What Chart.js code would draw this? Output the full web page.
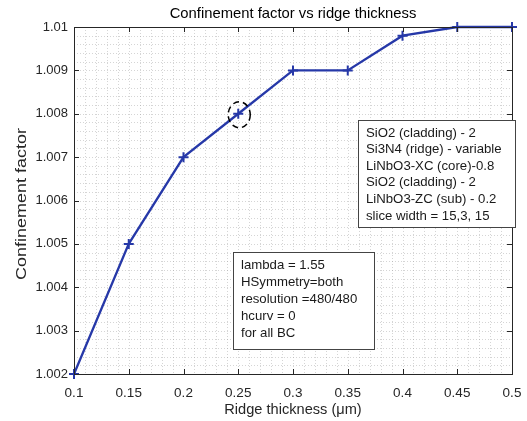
<!DOCTYPE html>
<html>
<head>
<meta charset="utf-8">
<script src="https://cdn.jsdelivr.net/npm/chart.js@4"></script>
<style>
  html, body { margin: 0; padding: 0; background: #fff; }
  #wrap { width: 527px; height: 421px; }
</style>
</head>
<body>
<div id="wrap"><canvas id="cf_chart" width="527" height="421"></canvas></div>
<script>
// Ridge thickness sweep (um) and the confinement factor at each step
var thickness = [0.1, 0.15, 0.2, 0.25, 0.3, 0.35, 0.4, 0.45, 0.5]
var confinement = [1.002, 1.005, 1.007, 1.008, 1.009, 1.009, 1.0098, 1.01, 1.01]

var xTicks = [0.1, 0.15, 0.2, 0.25, 0.3, 0.35, 0.4, 0.45, 0.5]
var yTicks = [1.002, 1.003, 1.004, 1.005, 1.006, 1.007, 1.008, 1.009, 1.01]

// Annotation boxes
var layerNotes = [
    'SiO2 (cladding) - 2',
    'Si3N4 (ridge) - variable',
    'LiNbO3-XC (core)-0.8',
    'SiO2 (cladding) - 2',
    'LiNbO3-ZC (sub) - 0.2',
    'slice width = 15,3, 15'
]
var simNotes = [
    'lambda = 1.55',
    'HSymmetry=both',
    'resolution =480/480',
    'hcurv = 0',
    'for all BC'
]

var highlighted = 0.25   // point circled on the curve

var FONT = '"Liberation Sans", Arial, sans-serif'
var AXIS_COLOR = '#262626'
var LINE_COLOR = 'rgb(38,56,168)'

var matlabAxes = {
    id: 'matlabAxes',

    // dotted minor grid
    beforeDatasetsDraw: function (chart) {
        var ctx = chart.ctx
        var a = chart.chartArea
        var xs = chart.scales.x
        var ys = chart.scales.y
        ctx.save()
        ctx.strokeStyle = 'rgba(150,150,150,0.5)'
        ctx.lineWidth = 0.8
        ctx.setLineDash([1, 2])
        for (var i = 1; i < 40; i++) {
            var px = Math.round(xs.getPixelForValue(0.1 + i * 0.01)) + 0.5
            ctx.beginPath(); ctx.moveTo(px, a.top); ctx.lineTo(px, a.bottom); ctx.stroke()
        }
        for (var j = 1; j < 40; j++) {
            var py = Math.round(ys.getPixelForValue(1.002 + j * 0.0002)) + 0.5
            ctx.beginPath(); ctx.moveTo(a.left, py); ctx.lineTo(a.right, py); ctx.stroke()
        }
        ctx.restore()
    },

    afterDatasetsDraw: function (chart) {
        var ctx = chart.ctx
        var a = chart.chartArea
        var xs = chart.scales.x
        var ys = chart.scales.y

        ctx.save()

        // axes box with inward ticks on all sides
        ctx.setLineDash([])
        ctx.strokeStyle = AXIS_COLOR
        ctx.lineWidth = 1
        ctx.strokeRect(a.left + 0.5, a.top + 0.5, a.right - a.left, a.bottom - a.top)
        ctx.beginPath()
        xTicks.forEach(function (v) {
            var px = Math.round(xs.getPixelForValue(v)) + 0.5
            ctx.moveTo(px, a.bottom); ctx.lineTo(px, a.bottom - 5)
            ctx.moveTo(px, a.top); ctx.lineTo(px, a.top + 5)
        })
        yTicks.forEach(function (v) {
            var py = Math.round(ys.getPixelForValue(v)) + 0.5
            ctx.moveTo(a.left, py); ctx.lineTo(a.left + 5, py)
            ctx.moveTo(a.right, py); ctx.lineTo(a.right - 5, py)
        })
        ctx.stroke()

        // titles (text is slightly taller than wide, as in the figure export)
        function label(text, x, y, size, angle, stretch) {
            ctx.save()
            ctx.translate(x, y)
            ctx.rotate(angle)
            ctx.scale(stretch, 1)
            ctx.font = size + 'px ' + FONT
            ctx.textAlign = 'center'
            ctx.textBaseline = 'middle'
            ctx.fillText(text, 0, 0)
            ctx.restore()
        }
        ctx.fillStyle = '#000'
        label('Confinement factor vs ridge thickness', (a.left + a.right) / 2, 14, 14.8, 0, 1)
        ctx.fillStyle = AXIS_COLOR
        label('Ridge thickness (\u03bcm)', (a.left + a.right) / 2, 410, 14.6, 0, 1)
        label('Confinement factor', 22, 204, 15, -Math.PI / 2, 1.2)

        // dashed circle around the highlighted point
        var idx = thickness.indexOf(highlighted)
        var cx = xs.getPixelForValue(highlighted)
        var cy = ys.getPixelForValue(confinement[idx])
        ctx.strokeStyle = '#000'
        ctx.lineWidth = 1.5
        ctx.setLineDash([6, 4])
        ctx.beginPath()
        ctx.ellipse(cx + 1, cy + 1, 11, 13, 0, 0, Math.PI * 2)
        ctx.stroke()
        ctx.setLineDash([])

        // text boxes
        function noteBox(lines, x, y, w, h, lineH) {
            ctx.fillStyle = '#fff'
            ctx.fillRect(x, y, w, h)
            ctx.strokeStyle = '#444'
            ctx.lineWidth = 1
            ctx.strokeRect(x + 0.5, y + 0.5, w, h)
            ctx.fillStyle = '#1a1a1a'
            ctx.font = '13.2px ' + FONT
            ctx.textAlign = 'left'
            ctx.textBaseline = 'middle'
            lines.forEach(function (t, k) {
                ctx.fillText(t, x + 8, y + 13 + k * lineH)
            })
        }
        noteBox(layerNotes, 358, 120, 157, 107, 16.6)
        noteBox(simNotes, 233, 252, 141, 97, 17)

        ctx.restore()
    }
}

var ctx = document.getElementById('cf_chart')

var chart = new Chart(ctx, {
    type: 'line',
    data: {
        datasets: [{
            label: 'Confinement factor',
            data: thickness.map(function (t, i) { return { x: t, y: confinement[i] } }),
            borderColor: LINE_COLOR,
            backgroundColor: LINE_COLOR,
            borderWidth: 2.3,
            tension: 0,
            clip: false,
            pointStyle: 'cross',
            pointRadius: 5,
            pointBorderWidth: 2,
            pointHoverRadius: 5
        }]
    },
    options: {
        responsive: false,
        animation: false,
        events: [],
        layout: { padding: { top: 27, right: 15, left: 0, bottom: 0 } },
        plugins: {
            legend: { display: false },
            tooltip: { enabled: false },
            title: { display: false }
        },
        scales: {
            x: {
                type: 'linear',
                min: 0.1,
                max: 0.5,
                afterBuildTicks: function (scale) {
                    scale.ticks = xTicks.map(function (v) { return { value: v } })
                },
                afterFit: function (scale) {
                    scale.height = 47
                    scale.paddingLeft = 0
                    scale.paddingRight = 0
                },
                grid: { display: false, drawTicks: false },
                border: { display: false },
                ticks: {
                    color: AXIS_COLOR,
                    font: { size: 13.5, family: FONT },
                    padding: 11,
                    maxRotation: 0,
                    callback: function (v) { return String(parseFloat(v.toFixed(2))) }
                },
                title: { display: false }
            },
            y: {
                type: 'linear',
                min: 1.002,
                max: 1.01,
                afterBuildTicks: function (scale) {
                    scale.ticks = yTicks.map(function (v) { return { value: v } })
                },
                afterFit: function (scale) {
                    scale.width = 74
                    scale.paddingTop = 0
                    scale.paddingBottom = 0
                },
                grid: { display: false, drawTicks: false },
                border: { display: false },
                ticks: {
                    color: AXIS_COLOR,
                    font: { size: 13, family: FONT },
                    padding: 6,
                    callback: function (v) { return String(parseFloat(v.toFixed(4))) }
                },
                title: { display: false }
            }
        }
    },
    plugins: [matlabAxes]
})
</script>
</body>
</html>
